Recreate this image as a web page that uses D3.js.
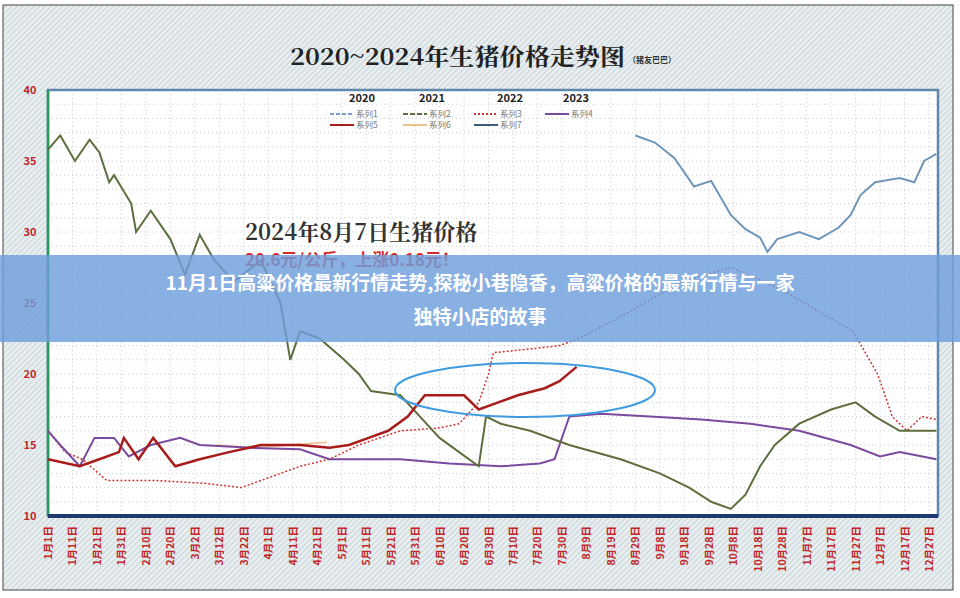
<!DOCTYPE html>
<html><head><meta charset="utf-8">
<script src="https://cdn.jsdelivr.net/npm/d3@7"></script>
<style>body{margin:0;background:#fff}svg{display:block}</style></head>
<body><svg id="c" width="960" height="598"></svg>
<script>
const yTicks=[10,15,20,25,30,35,40];
const xLabels=["1月1日","1月11日","1月21日","1月31日","2月10日","2月20日","3月2日","3月12日","3月22日","4月1日","4月11日","4月21日","5月1日","5月11日","5月21日","5月31日","6月10日","6月20日","6月30日","7月10日","7月20日","7月30日","8月9日","8月19日","8月29日","9月8日","9月18日","9月28日","10月8日","10月18日","10月28日","11月7日","11月17日","11月27日","12月7日","12月17日","12月27日"];
const legendYears=["2020","2021","2022","2023"];
// [day, price]
const s2020=[[241,36.8],[249,36.3],[257,35.2],[265,33.2],[272,33.6],[280,31.2],[286,30.2],[292,29.6],[295,28.6],[299,29.5],[308,30],[316,29.5],[324,30.3],[329,31.2],[333,32.6],[339,33.5],[349,33.8],[355,33.5],[359,35],[364,35.5]];
const s2021=[[1,35.8],[6,36.8],[12,35],[18,36.5],[22,35.6],[26,33.5],[28,34],[35,32],[37,30],[43,31.5],[51,29.5],[57,27],[63,29.8],[69,28],[77,26.5],[88,28],[96,25],[100,21],[104,23],[112,22.5],[122,21],[128,20],[133,18.8],[145,18.5],[153,17],[161,15.5],[169,14.5],[177,13.5],[180,17],[186,16.5],[198,16],[214,15],[235,14],[251,13],[263,12],[272,11],[280,10.5],[286,11.5],[292,13.5],[298,15],[308,16.5],[321,17.5],[331,18],[339,17],[349,16],[364,16]];
const s2022=[[1,16],[8,14.5],[15,14],[25,12.5],[45,12.5],[65,12.3],[80,12],[104,13.5],[116,14],[128,15],[145,16],[161,16.2],[169,16.5],[177,18],[181,20],[183,21.5],[200,21.8],[210,22],[218,22.5],[240,24.5],[260,26.5],[280,27.5],[300,26],[320,24],[330,23],[340,20],[346,17],[352,16],[358,17],[364,16.8]];
const s2023=[[1,16],[6,15],[14,13.5],[20,15.5],[28,15.5],[34,14.2],[43,15],[55,15.5],[63,15],[84,14.8],[104,14.7],[116,14],[145,14],[165,13.7],[186,13.5],[202,13.7],[208,14],[214,17],[227,17.2],[247,17],[268,16.8],[288,16.5],[308,16],[329,15],[341,14.2],[349,14.5],[364,14]];
const s2024=[[1,14],[14,13.5],[22,14],[30,14.5],[32,15.5],[38,14],[44,15.5],[53,13.5],[63,14],[75,14.5],[88,15],[104,15],[116,14.8],[124,15],[132,15.5],[140,16],[148,17],[155,18.5],[163,18.5],[171,18.5],[177,17.5],[185,18],[193,18.5],[204,19],[210,19.5],[217,20.5]];
const s2019=[[70,15],[85,14.8],[100,15],[115,15.2]];

const svg=d3.select("#c");
const defs=svg.append("defs");
const pat=defs.append("pattern").attr("id","hatch").attr("width",4).attr("height",4).attr("patternUnits","userSpaceOnUse").attr("patternTransform","rotate(45)");
pat.append("rect").attr("width",4).attr("height",4).attr("fill","#e8eef0");
pat.append("line").attr("x1",0).attr("y1",0).attr("x2",0).attr("y2",4).attr("stroke","#b9c6cc").attr("stroke-width",1.3);
svg.append("rect").attr("x",3).attr("y",5).attr("width",950).attr("height",585).attr("fill","url(#hatch)").attr("stroke","#444").attr("stroke-width",1);

const L=48,R=938,T=90,B=516;
const x=d3.scaleLinear().domain([1,361]).range([L,929]);
const y=d3.scaleLinear().domain([10,40]).range([B,T]);
svg.append("rect").attr("x",L).attr("y",T).attr("width",R-L).attr("height",B-T).attr("fill","#fff");
const g=svg.append("g");
g.selectAll("line.h").data(d3.range(10,40,1)).join("line").attr("x1",L).attr("x2",R).attr("y1",d=>y(d)).attr("y2",d=>y(d)).attr("stroke","#ccc").attr("stroke-dasharray","1,3");
g.selectAll("line.v").data(d3.range(0,37)).join("line").attr("x1",d=>x(1+d*10)).attr("x2",d=>x(1+d*10)).attr("y1",T).attr("y2",B).attr("stroke","#ccc").attr("stroke-dasharray","1,3");
svg.append("rect").attr("x",L).attr("y",T).attr("width",R-L).attr("height",B-T).attr("fill","none").attr("stroke","#5f88ad").attr("stroke-width",2.5);
svg.append("line").attr("x1",L).attr("x2",L).attr("y1",T).attr("y2",B).attr("stroke","#2a9a5a").attr("stroke-width",2.5);
svg.append("line").attr("x1",L).attr("x2",R).attr("y1",B).attr("y2",B).attr("stroke","#1d3b6e").attr("stroke-width",4);

svg.append("g").selectAll("text").data(yTicks).join("text").attr("x",30).attr("y",d=>y(d)+4).attr("text-anchor","middle")
 .attr("font-family","Noto Sans CJK SC").attr("font-size",11).attr("font-weight","bold").attr("fill","#c0282c").text(d=>d);
svg.append("g").selectAll("text").data(xLabels).join("text")
 .attr("transform",(d,i)=>`translate(${x(1+i*10)+4},${526}) rotate(-90)`).attr("text-anchor","end")
 .attr("font-family","Noto Sans CJK SC").attr("font-size",10.5).attr("font-weight","bold").attr("fill","#c0282c").text(d=>d);

svg.append("text").attr("x",290).attr("y",65).attr("textLength",335).attr("lengthAdjust","spacingAndGlyphs").attr("font-family","Noto Serif CJK SC, Noto Sans CJK SC").attr("font-size",23).attr("font-weight","bold").attr("fill","#222").text("2020~2024年生猪价格走势图");
svg.append("text").attr("x",628).attr("y",63).attr("font-family","Noto Sans CJK SC").attr("font-size",8).attr("font-weight","bold").attr("fill","#333").text("（猪友巴巴）");

const line=d3.line().x(d=>x(d[0])).y(d=>y(d[1])).curve(d3.curveLinear);
const series=[
 {d:s2019,c:"#f0c08a",w:1.5,da:null},
 {d:s2022,c:"#cc3333",w:1.5,da:"2,2"},
 {d:s2023,c:"#7a4a9e",w:2,da:null},
 {d:s2021,c:"#5e6e3e",w:2,da:null},
 {d:s2020,c:"#6f95bb",w:2,da:null},
 {d:s2024,c:"#a81c1c",w:2.5,da:null}];
series.forEach(s=>svg.append("path").attr("d",line(s.d)).attr("fill","none").attr("stroke",s.c).attr("stroke-width",s.w).attr("stroke-dasharray",s.da));

const lf="Noto Sans CJK SC";
legendYears.forEach((t,i)=>svg.append("text").attr("x",[362,432,510,576][i]).attr("y",102).attr("text-anchor","middle").attr("font-family",lf).attr("font-size",11).attr("font-weight","bold").attr("fill","#222").text(t));
const leg=[["系列1","#7aa0c8","4,2",330,117],["系列2","#5e6e3e","5,2",403,117],["系列3","#cc3333","2,2",474,117],["系列4","#7a4a9e",null,545,117],["系列5","#a81c1c",null,330,128],["系列6","#f0c08a",null,403,128],["系列7","#3c5a7a",null,474,128]];
leg.forEach(l=>{svg.append("line").attr("x1",l[3]).attr("x2",l[3]+24).attr("y1",l[4]-3).attr("y2",l[4]-3).attr("stroke",l[1]).attr("stroke-width",2).attr("stroke-dasharray",l[2]);
 svg.append("text").attr("x",l[3]+26).attr("y",l[4]).attr("font-family",lf).attr("font-size",8.5).attr("fill","#777").text(l[0]);});

svg.append("text").attr("x",245).attr("y",240).attr("font-family","Noto Serif CJK SC, Noto Sans CJK SC").attr("font-size",22).attr("font-weight","bold").attr("fill","#333").text("2024年8月7日生猪价格");
svg.append("text").attr("x",245).attr("y",266).attr("font-family","Noto Sans CJK SC").attr("font-size",17).attr("font-weight","bold").attr("fill","#d62b2b").text("20.6元/公斤，上涨0.18元！");

svg.append("ellipse").attr("cx",525).attr("cy",390).attr("rx",130).attr("ry",27).attr("fill","none").attr("stroke","#3f9be0").attr("stroke-width",2);

svg.append("rect").attr("x",0).attr("y",255).attr("width",960).attr("height",87).attr("fill","#6f9fdc").attr("opacity",0.82);
svg.append("text").attr("x",480).attr("y",290).attr("text-anchor","middle").attr("font-family",lf).attr("font-size",19).attr("font-weight","bold").attr("fill","#fff").text("11月1日高粱价格最新行情走势,探秘小巷隐香，高粱价格的最新行情与一家");
svg.append("text").attr("x",480).attr("y",324).attr("text-anchor","middle").attr("font-family",lf).attr("font-size",19).attr("font-weight","bold").attr("fill","#fff").text("独特小店的故事");
</script></body></html>
